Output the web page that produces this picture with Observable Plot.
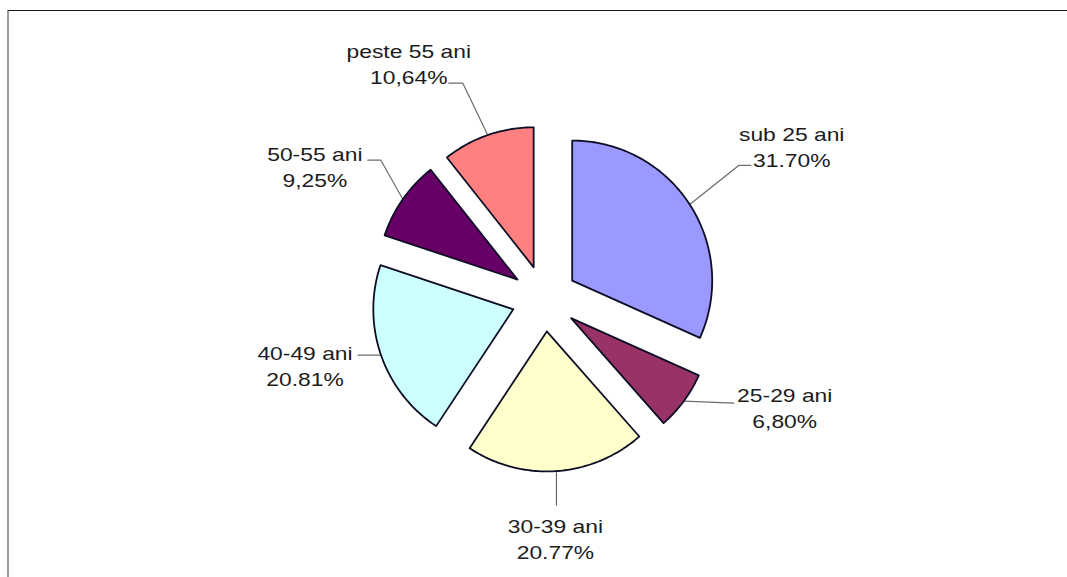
<!DOCTYPE html>
<html>
<head>
<meta charset="utf-8">
<script src="https://cdn.jsdelivr.net/npm/d3@7"></script>
<script src="https://cdn.jsdelivr.net/npm/@observablehq/plot@0.6"></script>
<style>
  html, body { margin: 0; padding: 0; background: #fff; }
  #wrap { position: relative; width: 1067px; height: 577px; overflow: hidden; }
  #frame { position: absolute; left: 7px; top: 10px; width: 1200px; height: 700px;
           border-top: 1px solid #1a1a1a; border-left: 2px solid #9a9a9a; box-sizing: border-box; }
  #chart { position: absolute; left: 0; top: 0; }
</style>
</head>
<body>
<div id="wrap"><div id="frame"></div><div id="chart"></div></div>
<script>
// ---- data ----
const categories = ["sub 25 ani", "25-29 ani", "30-39 ani", "40-49 ani", "50-55 ani", "peste 55 ani"];
const shares = [31.70, 6.80, 20.77, 20.81, 9.25, 10.64];
const shareLabels = ["31.70%", "6,80%", "20.77%", "20.81%", "9,25%", "10,64%"];

// ---- styles ----
const sliceColors = ["#9999ff", "#993366", "#ffffcc", "#ccffff", "#660066", "#ff8080"];

// ---- layout (pixels) ----
const W = 1067, H = 577;
const cx = 544, cy = 298;      // pie centre
const R = 140;                 // radius
const explode = 33;            // explosion distance
// label block offsets relative to the arc mid-point [dx, dy of first line]
const labelOffset = [[102, -72], [101, -7], [-1, 54], [-76, -3], [-88, -47], [-79, -85]];
// leader line bends relative to the arc mid-point
const leaderBends = [
  [[49, -39], [61, -39]],
  [[50, 2]],
  [[0, 34]],
  [[-23, 0]],
  [[-22, -39], [-35, -39]],
  [[-25, -52], [-39, -52]]
];
const lineGap = 26;

const total = d3.sum(shares);
const rad = deg => deg * Math.PI / 180;
const polar = (ox, oy, r, a) => [ox + r * Math.sin(a), oy - r * Math.cos(a)];

let acc = 0;
const slices = categories.map((name, i) => {
  const a0 = acc / total * 2 * Math.PI;
  acc += shares[i];
  const a1 = acc / total * 2 * Math.PI;
  const mid = (a0 + a1) / 2;
  const [ox, oy] = polar(cx, cy, explode, mid);
  const [mx, my] = polar(ox, oy, R, mid);
  return {name, i, a0, a1, mid, ox, oy, mx, my};
});

// slice outlines
const slicePts = [];
for (const s of slices) {
  const steps = Math.max(8, Math.ceil((s.a1 - s.a0) / rad(1)));
  slicePts.push({name: s.name, x: s.ox, y: s.oy});
  for (let k = 0; k <= steps; ++k) {
    const a = s.a0 + (s.a1 - s.a0) * k / steps;
    const [x, y] = polar(s.ox, s.oy, R, a);
    slicePts.push({name: s.name, x, y});
  }
  slicePts.push({name: s.name, x: s.ox, y: s.oy});
}

// leader lines
const leaderPts = [];
for (const s of slices) {
  leaderPts.push({name: s.name, x: s.mx, y: s.my});
  for (const [dx, dy] of leaderBends[s.i]) leaderPts.push({name: s.name, x: s.mx + dx, y: s.my + dy});
}

// labels
const labels = slices.map(s => ({
  text: s.name + "\n" + shareLabels[s.i],
  x: s.mx + labelOffset[s.i][0],
  y: s.my + labelOffset[s.i][1] + lineGap / 2
}));

const chart = Plot.plot({
  width: W,
  height: H,
  margin: 0,
  x: {domain: [0, W], range: [0, W], axis: null},
  y: {domain: [0, H], range: [0, H], axis: null},
  color: {domain: categories, range: sliceColors},
  marks: [
    Plot.line(leaderPts, {x: "x", y: "y", z: "name", stroke: "#6b6b6b", strokeWidth: 1.2}),
    Plot.line(slicePts, {x: "x", y: "y", z: "name", fill: "name", stroke: "#0d0d26", strokeWidth: 1.8, strokeLinejoin: "round"}),
    Plot.text(labels, {x: "x", y: "y", text: "text", lineHeight: lineGap / 18, fontSize: 18,
      fontFamily: "Liberation Sans, Arial, sans-serif", fill: "#1c1c1c", textAnchor: "middle", lineAnchor: "middle"})
  ]
});

chart.querySelectorAll('g[aria-label="text"] text').forEach(t => {
  const tr = t.getAttribute("transform") || "";
  t.setAttribute("transform", tr + " scale(1.27,1)");
});

document.getElementById("chart").appendChild(chart);
</script>
</body>
</html>
